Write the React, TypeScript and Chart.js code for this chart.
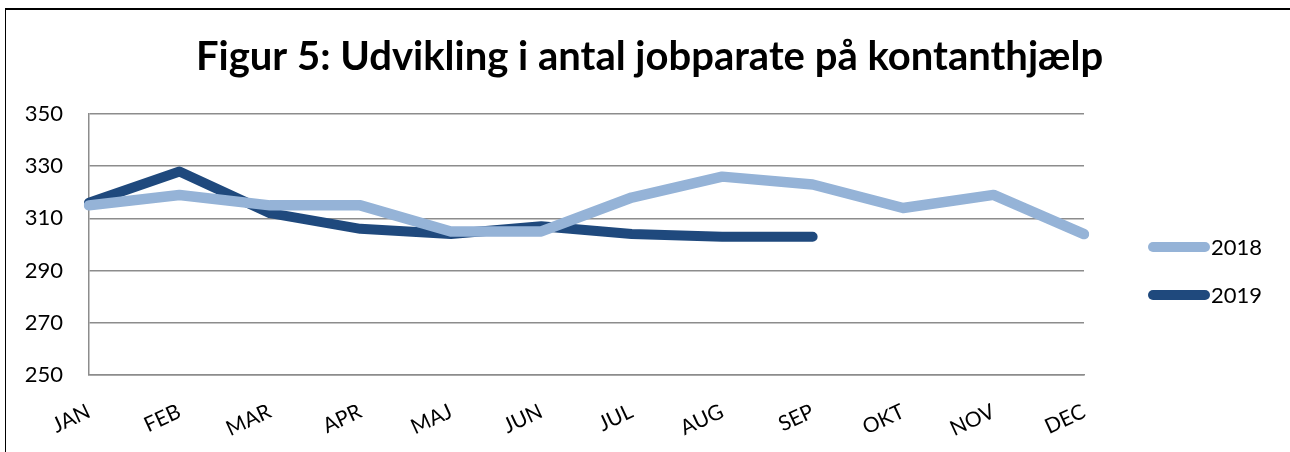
import React, { useEffect, useRef } from "react";
import { Chart, registerables } from "chart.js";

Chart.register(...registerables);

const TITLE = "Figur 5: Udvikling i antal jobparate på kontanthjælp";
const MONTHS = ["JAN", "FEB", "MAR", "APR", "MAJ", "JUN", "JUL", "AUG", "SEP", "OKT", "NOV", "DEC"];
const SERIES_2018 = [315, 319, 315, 315, 305, 305, 318, 326, 323, 314, 319, 304];
const SERIES_2019 = [316, 328, 312, 306, 304, 307, 304, 303, 303, null, null, null];
const SERIES_LABELS = ["2018", "2019"];
const SERIES_COLORS = ["#95B3D7", "#1F497D"];
const Y_MIN = 250;
const Y_MAX = 350;
const Y_STEP = 20;

const FONT = "Lato, 'Open Sans', sans-serif";

const legendPlugin = {
  id: "customLegend",
  afterDraw(chart: any) {
    const ctx = chart.ctx;
    const ds = chart.data.datasets;
    const x0 = 1148;
    const x1 = 1210;
    const ys = [247, 295];
    ctx.save();
    ds.forEach((d: any, i: number) => {
      ctx.strokeStyle = d.borderColor;
      ctx.lineWidth = 10;
      ctx.lineCap = "round";
      ctx.beginPath();
      ctx.moveTo(x0 + 5, ys[i]);
      ctx.lineTo(x1 - 5, ys[i]);
      ctx.stroke();
      ctx.fillStyle = "#000";
      ctx.font = `22px ${FONT}`;
      ctx.textBaseline = "middle";
      ctx.textAlign = "left";
      ctx.fillText(d.label, x1 + 1, ys[i] + 1);
    });
    ctx.restore();
  },
};

export default function App() {
  const ref = useRef<HTMLCanvasElement | null>(null);

  useEffect(() => {
    document.body.style.margin = "0";
    const c = ref.current;
    if (!c) return;
    const chart = new Chart(c, {
      type: "line",
      data: {
        labels: MONTHS,
        datasets: [
          {
            label: SERIES_LABELS[0],
            data: SERIES_2018,
            borderColor: SERIES_COLORS[0],
            backgroundColor: SERIES_COLORS[0],
            borderWidth: 10.5,
            pointRadius: 0,
            borderCapStyle: "round",
            borderJoinStyle: "round",
            tension: 0,
            yAxisID: "y",
          },
          {
            label: SERIES_LABELS[1],
            data: SERIES_2019,
            borderColor: SERIES_COLORS[1],
            backgroundColor: SERIES_COLORS[1],
            borderWidth: 10,
            pointRadius: 0,
            borderCapStyle: "round",
            borderJoinStyle: "round",
            tension: 0,
            yAxisID: "y",
          },
        ],
      },
      options: {
        animation: false,
        responsive: false,
        devicePixelRatio: 1,
        layout: { padding: { left: 9, right: 0, top: 0, bottom: 0 } },
        plugins: {
          legend: { display: false },
          tooltip: { enabled: false },
          title: {
            display: true,
            text: TITLE,
            color: "#000",
            font: { family: FONT, size: 40, weight: "bold", lineHeight: 1.2 },
            padding: { top: 33, bottom: 33 },
          },
        },
        scales: {
          x: {
            offset: false,
            grid: { display: false, drawTicks: false },
            border: { display: true, color: "#8c8c8c", width: 1.5 },
            ticks: {
              color: "#000",
              font: { family: FONT, size: 21 },
              minRotation: 25,
              maxRotation: 25,
              autoSkip: false,
              padding: 24,
            },
            afterFit(scale: any) {
              scale.height = 452 - 375;
            },
          },
          y: {
            min: Y_MIN,
            max: Y_MAX,
            position: "left",
            grid: { color: "#8c8c8c", lineWidth: 1.5, drawTicks: false },
            border: { display: true, color: "#8c8c8c", width: 1.5 },
            ticks: {
              stepSize: Y_STEP,
              color: "#000",
              font: { family: FONT, size: 22 },
              padding: 26,
            },
            afterFit(scale: any) {
              scale.width = 89 - 9;
            },
          },
          y2: {
            position: "right",
            min: Y_MIN,
            max: Y_MAX,
            grid: { display: false, drawTicks: false },
            border: { display: false },
            ticks: { display: false },
            afterFit(scale: any) {
              scale.width = 1290 - 1084;
            },
          },
        },
      },
      plugins: [legendPlugin],
    } as any);
    return () => chart.destroy();
  }, []);

  return (
    <div style={{ position: "relative", width: 1290, height: 452, overflow: "hidden", background: "#fff" }}>
      <canvas ref={ref} width={1290} height={452} style={{ position: "absolute", left: 0, top: 0 }} />
      <div
        style={{
          position: "absolute",
          left: 5,
          top: 8,
          width: 1300,
          height: 500,
          borderLeft: "1.5px solid #000",
          borderTop: "2px solid #000",
          pointerEvents: "none",
        }}
      />
    </div>
  );
}
